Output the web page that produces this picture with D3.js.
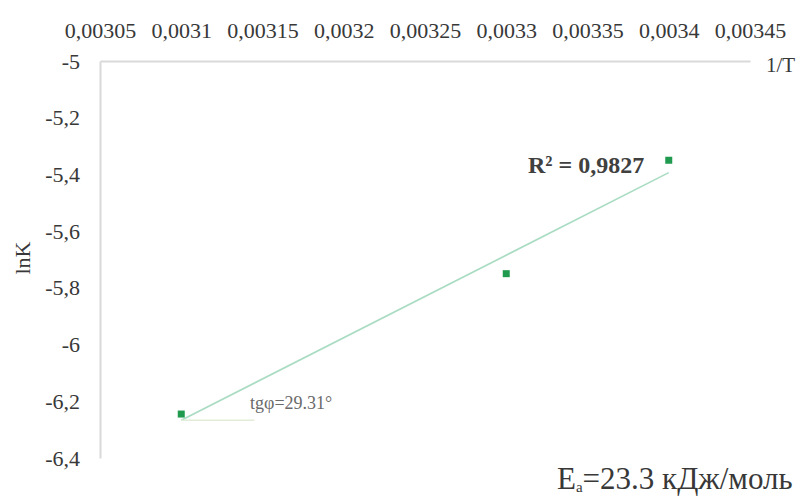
<!DOCTYPE html>
<html>
<head>
<meta charset="utf-8">
<script src="https://cdn.jsdelivr.net/npm/d3@7/dist/d3.min.js"></script>
<style>
  html, body { margin: 0; padding: 0; background: #fff; }
  svg { display: block; }
</style>
</head>
<body>
<svg id="chart" width="802" height="498"></svg>
<script>
// Arrhenius plot: lnK against 1/T
const invT = [0.0031, 0.0033, 0.0034];
const lnK = [-6.245, -5.75, -5.35];

const xTicks = [0.00305, 0.0031, 0.00315, 0.0032, 0.00325, 0.0033, 0.00335, 0.0034, 0.00345];
const yTicks = [-5, -5.2, -5.4, -5.6, -5.8, -6, -6.2, -6.4];

const xDomain = [0.00305, 0.00345];
const yDomain = [-5, -6.4];
const angleEnd = 0.003145; // where the horizontal leg of the slope angle ends

const rSquaredLabel = "R² = 0,9827";
const slopeLabel = "tgφ=29.31°";
const energyValue = "=23.3 кДж/моль";

const SERIF = '"Liberation Serif", "Times New Roman", "DejaVu Serif", serif';

const svg = d3.select("#chart");
const x = d3.scaleLinear().domain(xDomain).range([100, 750]);
const y = d3.scaleLinear().domain(yDomain).range([61, 458]);

const comma = v => String(v).replace(".", ",");
const styleText = (sel, size) => sel.style("font-family", SERIF).style("font-size", size + "px").style("fill", "#383838");

// top axis (1/T)
const gx = svg.append("g").attr("transform", `translate(0,${y(-5)})`)
  .call(d3.axisTop(x).tickValues(xTicks).tickSize(0).tickPadding(23).tickFormat(comma));
gx.select(".domain").attr("stroke", "#d9d9d9").attr("stroke-width", 2);
styleText(gx.selectAll("text"), 22);

// left axis (lnK)
const gy = svg.append("g").attr("transform", `translate(${x(xDomain[0])},0)`)
  .call(d3.axisLeft(y).tickValues(yTicks).tickSize(0).tickPadding(20).tickFormat(comma));
gy.select(".domain").attr("stroke", "#d9d9d9").attr("stroke-width", 2);
styleText(gy.selectAll("text"), 22);

styleText(svg.append("text").attr("x", 766).attr("y", 72).text("1/T"), 21);
styleText(svg.append("text").attr("transform", `translate(30,258) rotate(-90)`)
  .attr("text-anchor", "middle").text("lnK"), 22);

// least-squares trend line
const n = invT.length;
const mx = d3.mean(invT), my = d3.mean(lnK);
let sxy = 0, sxx = 0;
for (let i = 0; i < n; i++) { sxy += (invT[i] - mx) * (lnK[i] - my); sxx += (invT[i] - mx) ** 2; }
const slope = sxy / sxx, icpt = my - slope * mx;
const fit = v => icpt + slope * v;
const x0 = d3.min(invT), x1 = d3.max(invT);

svg.append("line")
  .attr("x1", x(x0)).attr("y1", y(fit(x0)))
  .attr("x2", x(x1)).attr("y2", y(fit(x1)))
  .attr("stroke", "#a9dcc2").attr("stroke-width", 1.6);

// horizontal leg of the slope angle
svg.append("line")
  .attr("x1", x(x0)).attr("y1", y(fit(x0)))
  .attr("x2", x(angleEnd)).attr("y2", y(fit(x0)))
  .attr("stroke", "#e2edd8").attr("stroke-width", 1.4);

// data points
svg.selectAll("rect.pt").data(invT).join("rect").attr("class", "pt")
  .attr("x", (d) => x(d) - 3.5).attr("y", (d, i) => y(lnK[i]) - 3.5)
  .attr("width", 7).attr("height", 7).attr("fill", "#1f9a4e");

// annotations
styleText(svg.append("text").attr("x", 528).attr("y", 173).text(rSquaredLabel), 24)
  .style("font-weight", "bold").style("fill", "#404040");
styleText(svg.append("text").attr("x", 250).attr("y", 409).text(slopeLabel), 18)
  .style("fill", "#6a6a6a");

const e = styleText(svg.append("text").attr("x", 557).attr("y", 489), 31);
e.append("tspan").text("E");
e.append("tspan").style("font-size", "15px").attr("dy", 3).text("a");
e.append("tspan").attr("dy", -3).text(energyValue);
</script>
</body>
</html>
